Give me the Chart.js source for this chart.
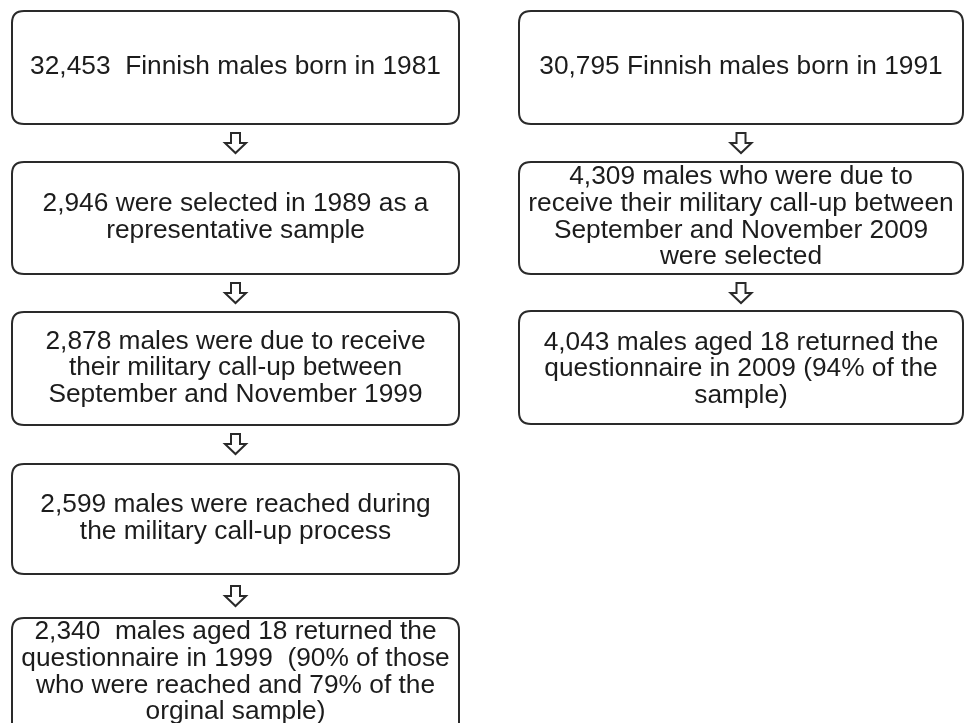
<!DOCTYPE html>
<html>
<head>
<meta charset="utf-8">
<script src="https://cdn.jsdelivr.net/npm/chart.js@4"></script>
<style>
html, body { margin: 0; padding: 0; background: #fff; }
#wrap { width: 964px; height: 723px; }
</style>
</head>
<body>
<div id="wrap"><canvas id="flow"></canvas></div>
<script>
// box texts, one array of lines per box
const cohort1981 = [
    ['32,453  Finnish males born in 1981'],
    ['2,946 were selected in 1989 as a', 'representative sample'],
    ['2,878 males were due to receive', 'their military call-up between', 'September and November 1999'],
    ['2,599 males were reached during', 'the military call-up process'],
    ['2,340  males aged 18 returned the', 'questionnaire in 1999  (90% of those', 'who were reached and 79% of the', 'orginal sample)']
];
const cohort1991 = [
    ['30,795 Finnish males born in 1991'],
    ['4,309 males who were due to', 'receive their military call-up between', 'September and November 2009', 'were selected'],
    ['4,043 males aged 18 returned the', 'questionnaire in 2009 (94% of the', 'sample)']
];

// layout (in scale units, same as pixels here)
const columns = [
    {left: 12, right: 459, boxes: [[11, 124, 66], [162, 274, 216], [312, 425, 367], [464, 574, 517], [618, 740, 671]],
        arrows: [133, 283, 434, 586]},
    {left: 519, right: 963, boxes: [[11, 124, 66], [162, 274, 216], [311, 424, 368]],
        arrows: [133, 283]}
];

const lineHeight = 26.6;
const textFont = '26.3px "Liberation Sans", Arial, sans-serif';

function roundBox(ctx, x1, y1, x2, y2, r) {
    ctx.beginPath();
    ctx.moveTo(x1 + r, y1);
    ctx.lineTo(x2 - r, y1);
    ctx.quadraticCurveTo(x2, y1, x2, y1 + r);
    ctx.lineTo(x2, y2 - r);
    ctx.quadraticCurveTo(x2, y2, x2 - r, y2);
    ctx.lineTo(x1 + r, y2);
    ctx.quadraticCurveTo(x1, y2, x1, y2 - r);
    ctx.lineTo(x1, y1 + r);
    ctx.quadraticCurveTo(x1, y1, x1 + r, y1);
    ctx.closePath();
}

function downArrow(ctx, cx, top, xs, ys) {
    const px = v => xs.getPixelForValue(v);
    const py = v => ys.getPixelForValue(v);
    ctx.beginPath();
    ctx.moveTo(px(cx - 4.5), py(top));
    ctx.lineTo(px(cx + 4.5), py(top));
    ctx.lineTo(px(cx + 4.5), py(top + 10));
    ctx.lineTo(px(cx + 10.5), py(top + 10));
    ctx.lineTo(px(cx), py(top + 20));
    ctx.lineTo(px(cx - 10.5), py(top + 10));
    ctx.lineTo(px(cx - 4.5), py(top + 10));
    ctx.closePath();
    ctx.fillStyle = '#fff';
    ctx.fill();
    ctx.stroke();
}

const flowPlugin = {
    id: 'flow',
    afterDatasetsDraw(chart) {
        const ctx = chart.ctx;
        const xs = chart.scales.x, ys = chart.scales.y;
        const texts = [cohort1981, cohort1991];
        ctx.save();
        ctx.strokeStyle = '#2a2a2a';
        ctx.lineWidth = 2;
        columns.forEach(function (col, c) {
            const x1 = xs.getPixelForValue(col.left);
            const x2 = xs.getPixelForValue(col.right);
            const cx = (col.left + col.right) / 2;
            col.boxes.forEach(function (b, i) {
                roundBox(ctx, x1, ys.getPixelForValue(b[0]), x2, ys.getPixelForValue(b[1]), 12);
                ctx.stroke();
                const lines = texts[c][i];
                ctx.fillStyle = '#1c1c1c';
                ctx.font = textFont;
                ctx.textAlign = 'center';
                ctx.textBaseline = 'middle';
                lines.forEach(function (ln, k) {
                    const y = b[2] + (k - (lines.length - 1) / 2) * lineHeight;
                    ctx.fillText(ln, xs.getPixelForValue(cx), ys.getPixelForValue(y) + 1);
                });
            });
            col.arrows.forEach(function (top) {
                downArrow(ctx, cx, top, xs, ys);
            });
        });
        ctx.restore();
    }
};

new Chart(document.getElementById('flow'), {
    type: 'scatter',
    data: {datasets: [{data: [], pointRadius: 0}]},
    options: {
        responsive: true,
        maintainAspectRatio: false,
        animation: false,
        layout: {padding: 0},
        plugins: {legend: {display: false}, tooltip: {enabled: false}},
        scales: {
            x: {type: 'linear', min: 0, max: 964, display: false},
            y: {type: 'linear', min: 0, max: 723, reverse: true, display: false}
        }
    },
    plugins: [flowPlugin]
});
</script>
</body>
</html>
